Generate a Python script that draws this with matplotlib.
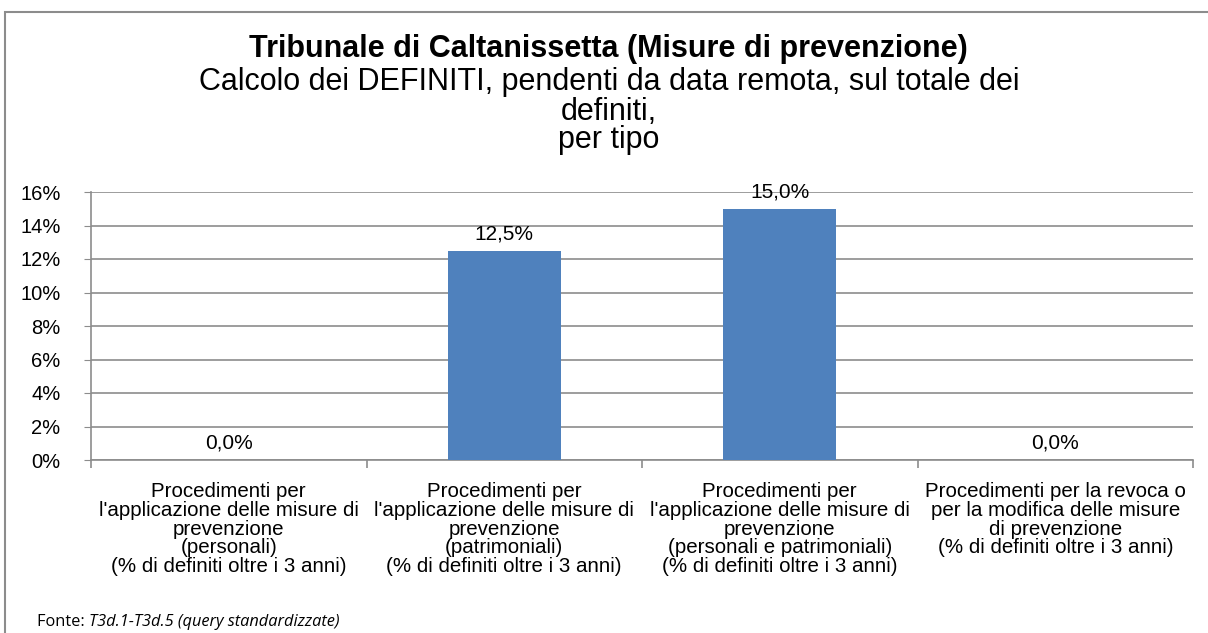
import matplotlib
matplotlib.use("Agg")
import matplotlib.pyplot as plt
from matplotlib.patches import Rectangle
from matplotlib.ticker import FixedLocator, FuncFormatter

categories = [
    "Procedimenti per\nl'applicazione delle misure di\nprevenzione\n(personali)\n(% di definiti oltre i 3 anni)",
    "Procedimenti per\nl'applicazione delle misure di\nprevenzione\n(patrimoniali)\n(% di definiti oltre i 3 anni)",
    "Procedimenti per\nl'applicazione delle misure di\nprevenzione\n(personali e patrimoniali)\n(% di definiti oltre i 3 anni)",
    "Procedimenti per la revoca o\nper la modifica delle misure\ndi prevenzione\n(% di definiti oltre i 3 anni)",
]
values = [0.0, 12.5, 15.0, 0.0]
value_labels = ["0,0%", "12,5%", "15,0%", "0,0%"]
yticks = [0, 2, 4, 6, 8, 10, 12, 14, 16]

plt.rcParams['font.family'] = ['Liberation Sans', 'DejaVu Sans']

W, H = 1208, 633
fig = plt.figure(figsize=(W / 100, H / 100), dpi=100)
fig.patch.set_facecolor('white')

# outer frame
fig.patches.append(Rectangle((5 / W, -0.01), 1.1, 1 - 12 / H + 0.01, transform=fig.transFigure,
                             fill=False, edgecolor='#8c8c8c', linewidth=1.5))

ax = fig.add_axes([91 / W, 1 - 460 / H, (1193 - 91) / W, (460 - 192) / H])
x = list(range(len(categories)))
ax.bar(x, values, width=0.41, color='#4f81bd', zorder=3)
ax.set_xlim(-0.5, len(categories) - 0.5)
ax.set_ylim(0, 16)
ax.yaxis.set_major_locator(FixedLocator(yticks))
ax.yaxis.set_major_formatter(FuncFormatter(lambda v, p: f"{int(v)}%"))
ax.grid(axis='y', color='#8c8c8c', linewidth=1.2, zorder=0)
for s in ['top', 'right']:
    ax.spines[s].set_visible(False)
for s in ['left', 'bottom']:
    ax.spines[s].set_color('#8c8c8c')
    ax.spines[s].set_linewidth(1.2)
ax.tick_params(axis='y', length=5, color='#8c8c8c', labelsize=14.5, pad=17)
ax.set_xticks(x)
ax.set_xticklabels(categories, fontsize=14.8, linespacing=0.98, va='top')
ax.tick_params(axis='x', length=0, pad=16)
ax.set_xticks([i - 0.5 for i in range(len(categories) + 1)], minor=True)
ax.tick_params(axis='x', which='minor', length=6, color='#8c8c8c', width=1.2)

for xi, v, lab in zip(x, values, value_labels):
    ax.annotate(lab, (xi, v), xytext=(0, 8), textcoords='offset points',
                ha='center', va='baseline', fontsize=15)

cx = 0.504
fig.text(cx, 1 - 57 / H, "Tribunale di Caltanissetta (Misure di prevenzione)",
         ha='center', va='baseline', fontsize=22, fontweight='bold')
fig.text(cx, 1 - 90 / H, "Calcolo dei DEFINITI, pendenti da data remota, sul totale dei",
         ha='center', va='baseline', fontsize=22)
fig.text(cx, 1 - 120 / H, "definiti,", ha='center', va='baseline', fontsize=22)
fig.text(cx, 1 - 148 / H, "per tipo", ha='center', va='baseline', fontsize=22)

t1 = fig.text(37 / W, 1 - 622 / H, "Fonte: ", ha='left', va='center', fontsize=11.8,
              family=['Open Sans', 'DejaVu Sans'])
fig.canvas.draw()
bb = t1.get_window_extent()
fig.text(bb.x1 / W, 1 - 622 / H, "T3d.1-T3d.5 (query standardizzate)", ha='left', va='center',
         fontsize=11.8, style='italic', family=['Open Sans', 'DejaVu Sans'])

fig.savefig("out.png", dpi=100)
